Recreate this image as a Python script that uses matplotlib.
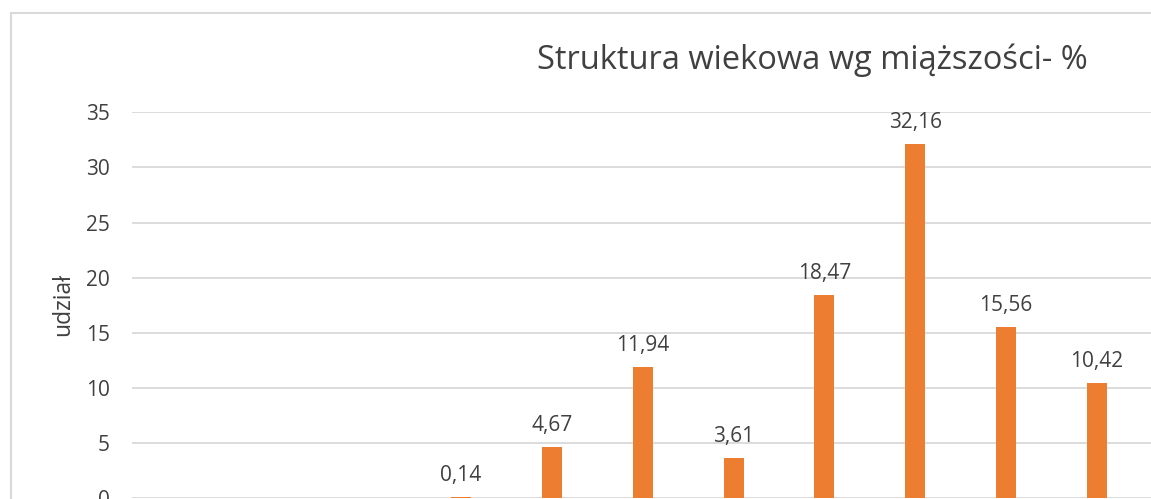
import matplotlib

matplotlib.use("Agg")
import matplotlib.pyplot as plt
from matplotlib.patches import Rectangle

# Dane: udział (%) miąższości w kolejnych klasach wieku
klasy = ["IV", "V", "VI", "VII", "VIII", "IX", "X", "XI"]
udzial = [0.14, 4.67, 11.94, 3.61, 18.47, 32.16, 15.56, 10.42]
yticks = [0, 5, 10, 15, 20, 25, 30, 35]

W, H = 1151, 499
ORANGE = "#ED7D31"
GRID = "#D9D9D9"
TXT = "#404040"
FONT = "Open Sans"

fig = plt.figure(figsize=(W / 100, H / 100), dpi=100)

# ramka wykresu (wychodzi poza kadr z prawej i z dołu)
fig.patches.append(
    Rectangle((10.5 / W, -0.1), 1.2, (H - 13.3) / H + 0.1,
              transform=fig.transFigure, fill=False, edgecolor=GRID, lw=1.5)
)

x0, dx = 461.0, 90.86
left_px, bottom_px, top_px = 132.0, 498.3, 112.3
ax = fig.add_axes([left_px / W, (H - bottom_px) / H, (W - left_px) / W,
                   (bottom_px - top_px) / H])
ax.set_xlim(-(x0 - left_px) / dx, (W - x0) / dx)
ax.set_ylim(0, 35)

pos = list(range(len(udzial)))
ax.bar(pos, udzial, width=0.22, color=ORANGE, zorder=3)
for p, v in zip(pos, udzial):
    ax.annotate(f"{v:.2f}".replace(".", ","), (p, v), xytext=(0, 11),
                textcoords="offset pixels", ha="center", va="bottom",
                fontsize=15, color=TXT, family=FONT, annotation_clip=False)

ax.set_yticks(yticks)
ax.set_xticks([])
ax.yaxis.grid(True, color=GRID, lw=1.3, zorder=0)
ax.tick_params(axis="y", length=0, pad=16, labelsize=15, labelcolor=TXT)
for lab in ax.get_yticklabels():
    lab.set_family(FONT)
for s in ax.spines.values():
    s.set_visible(False)

fig.text(63 / W, 1 - 305 / H, "udział", rotation=90, ha="center", va="center",
         fontsize=16.5, color=TXT, family=FONT)
fig.text(812 / W, 1 - 60 / H, "Struktura wiekowa wg miąższości- %",
         ha="center", va="center", fontsize=23.5, color=TXT, family=FONT)

fig.savefig("out.png", dpi=100)
